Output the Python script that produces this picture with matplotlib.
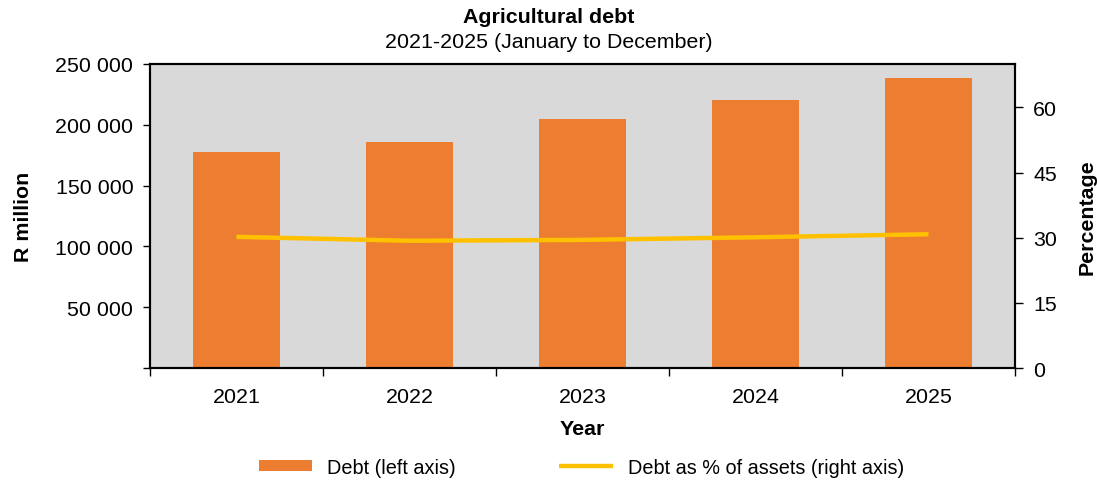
import matplotlib.pyplot as plt
import numpy as np
from matplotlib.ticker import FuncFormatter

plt.rcParams["font.family"] = ["Liberation Sans", "DejaVu Sans"]

bar_color = "#ED7D31"
line_color = "#FFC000"
bg_color = "#D9D9D9"

# Data
years = ["2021", "2022", "2023", "2024", "2025"]
debt = [177500, 186000, 204800, 220400, 238500]        # R million
debt_pct = [30.2, 29.3, 29.5, 30.1, 30.8]              # % of assets

x = np.arange(len(years))

fig = plt.figure(figsize=(10.97, 4.81), dpi=100)
ax1 = fig.add_axes([0.1367, 0.2328, 0.7886, 0.6321])
ax1.set_facecolor(bg_color)

ax1.bar(x, debt, width=0.5, color=bar_color, label="Debt (left axis)", zorder=2)
ax1.set_xlim(-0.5, 4.5)
ax1.set_ylim(0, 250000)
ax1.set_yticks(np.arange(0, 250001, 50000))
ax1.yaxis.set_major_formatter(
    FuncFormatter(lambda v, p: "" if v == 0 else f"{int(v):,}".replace(",", " "))
)
ax1.set_xticks(x)
ax1.set_xticklabels(years)
ax1.set_xticks(np.arange(-0.5, 5, 1), minor=True)
ax1.tick_params(axis="x", which="major", length=0, pad=14, labelsize=15.4)
ax1.tick_params(axis="x", which="minor", length=6, width=1, direction="out")
ax1.tick_params(axis="y", length=5, width=1, direction="out", labelsize=15.4, pad=7)
ax1.set_xlabel("Year", fontsize=15.4, fontweight="bold", labelpad=9)
ax1.set_ylabel("R million", fontsize=15.4, fontweight="bold", labelpad=16)

ax2 = ax1.twinx()
ax2.plot(x, debt_pct, color=line_color, linewidth=3.2, solid_capstyle="butt",
         label="Debt as % of assets (right axis)", zorder=3)
ax2.set_ylim(0, 70)
ax2.set_yticks([0, 15, 30, 45, 60])
ax2.tick_params(axis="y", length=6, width=1, direction="out", labelsize=15.4, pad=7)
ax2.set_ylabel("Percentage", fontsize=15.4, fontweight="bold", labelpad=15)

for ax in (ax1, ax2):
    for s in ax.spines.values():
        s.set_linewidth(1.5)
        s.set_color("black")

fig.text(0.5, 0.964, "Agricultural debt", ha="center", va="center",
         fontsize=15.4, fontweight="bold")
fig.text(0.5, 0.912, "2021-2025 (January to December)", ha="center", va="center",
         fontsize=15.4)

h1, l1 = ax1.get_legend_handles_labels()
h2, l2 = ax2.get_legend_handles_labels()
fig.legend(h1 + h2, l1 + l2, loc="center", bbox_to_anchor=(0.53, 0.027),
           ncol=2, frameon=False, fontsize=14.3, handlelength=2.7,
           handleheight=0.5, handletextpad=0.75, columnspacing=5.2)

plt.savefig("out.png", dpi=100)
